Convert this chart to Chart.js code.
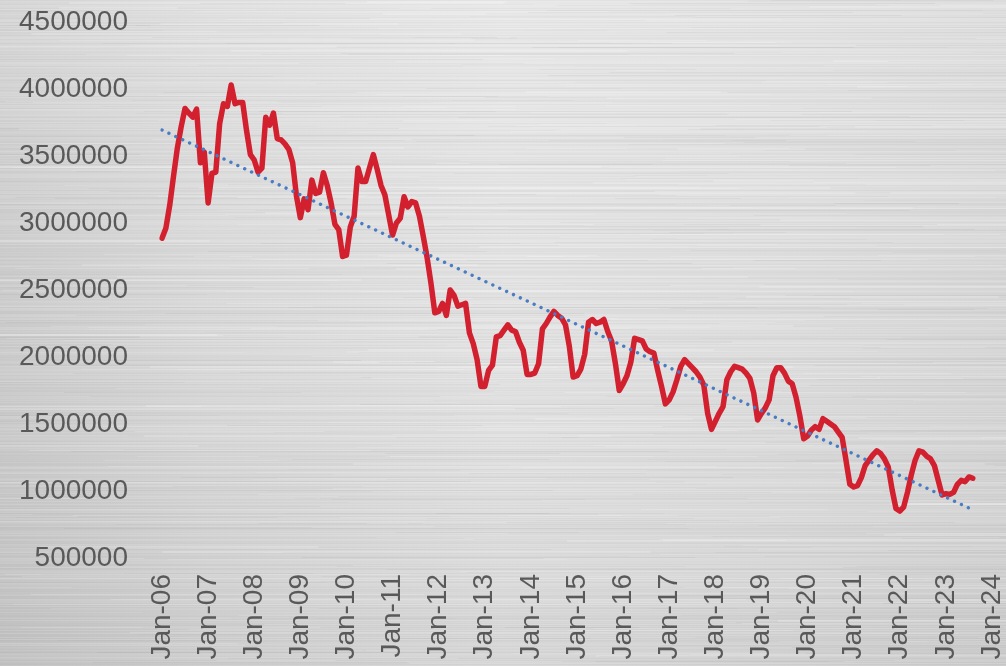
<!DOCTYPE html>
<html>
<head>
<meta charset="utf-8">
<script src="https://cdn.jsdelivr.net/npm/chart.js@4.4.1/dist/chart.umd.min.js"></script>
<style>
  html, body { margin: 0; padding: 0; background: #d6d6d6; }
  #wrap { position: relative; width: 1006px; height: 666px; }
  canvas { display: block; }
</style>
</head>
<body>
<div id="wrap"><canvas id="c" width="1006" height="666"></canvas></div>
<script>
// ---- data ----
const monthNames = ['Jan','Feb','Mar','Apr','May','Jun','Jul','Aug','Sep','Oct','Nov','Dec'];
const yearLabels = ['06','07','08','09','10','11','12','13','14','15','16','17','18','19','20','21','22','23','24'];
const yTicks = [500000,1000000,1500000,2000000,2500000,3000000,3500000,4000000,4500000];

// monthly values Jan-06 .. Aug-23
const values = [
  2886000,2960000,3130000,3350000,3560000,3720000,3855000,3820000,3790000,3850000,3450000,3530000,
  3150000,3370000,3380000,3740000,3890000,3870000,4030000,3890000,3900000,3900000,3690000,3510000,
  3470000,3380000,3410000,3790000,3730000,3820000,3630000,3620000,3590000,3550000,3450000,3200000,
  3040000,3180000,3100000,3320000,3220000,3230000,3375000,3280000,3150000,2990000,2950000,2750000,
  2760000,2970000,3050000,3410000,3310000,3310000,3410000,3510000,3400000,3280000,3210000,3060000,
  2910000,3000000,3035000,3196000,3120000,3160000,3150000,3050000,2900000,2740000,2550000,2330000,
  2340000,2400000,2310000,2500000,2460000,2380000,2390000,2400000,2180000,2100000,1980000,1780000,
  1780000,1900000,1940000,2150000,2160000,2200000,2240000,2200000,2190000,2110000,2050000,1870000,
  1870000,1880000,1950000,2210000,2250000,2300000,2340000,2310000,2290000,2240000,2080000,1850000,
  1860000,1910000,2020000,2260000,2280000,2250000,2260000,2280000,2190000,2120000,1950000,1750000,
  1800000,1860000,1960000,2140000,2130000,2120000,2060000,2040000,2030000,1900000,1780000,1650000,
  1680000,1740000,1830000,1930000,1980000,1950000,1920000,1890000,1850000,1790000,1580000,1460000,
  1520000,1580000,1630000,1830000,1890000,1930000,1920000,1910000,1880000,1840000,1730000,1530000,
  1580000,1620000,1680000,1860000,1920000,1920000,1880000,1820000,1800000,1700000,1560000,1390000,
  1410000,1455000,1480000,1460000,1540000,1520000,1500000,1480000,1440000,1400000,1230000,1050000,
  1030000,1040000,1100000,1190000,1230000,1270000,1300000,1280000,1240000,1180000,1010000,870000,
  850000,880000,990000,1120000,1230000,1300000,1290000,1260000,1240000,1190000,1080000,970000,
  980000,975000,990000,1050000,1080000,1070000,1105000,1095000
];

// linear trend line end points (first and last month of the series)
const trendStart = 3694000;
const trendEnd = 860000;

// ---- categories ----
const labels = [];
for (let yi = 0; yi < yearLabels.length; yi++) {
  for (let mi = 0; mi < 12; mi++) {
    labels.push(monthNames[mi] + '-' + yearLabels[yi]);
    if (yi === yearLabels.length - 1) break; // stop at Jan-24
  }
}

// ---- brushed metal background ----
function hash(n) { const x = Math.sin(n * 12.9898 + 78.233) * 43758.5453; return x - Math.floor(x); }
const metalBg = {
  id: 'metalBg',
  beforeDraw(chart) {
    const ctx = chart.ctx, W = chart.width, H = chart.height;
    ctx.save();
    const g = ctx.createLinearGradient(0, 0, W, 0);
    g.addColorStop(0, '#cbcbcb');
    g.addColorStop(0.2, '#d8d8d8');
    g.addColorStop(0.5, '#e2e2e2');
    g.addColorStop(0.8, '#dcdcdc');
    g.addColorStop(1, '#d6d6d6');
    ctx.fillStyle = g;
    ctx.fillRect(0, 0, W, H);
    const v = ctx.createLinearGradient(0, 0, 0, H);
    v.addColorStop(0, 'rgba(255,255,255,0.22)');
    v.addColorStop(0.45, 'rgba(255,255,255,0.02)');
    v.addColorStop(1, 'rgba(0,0,0,0.05)');
    ctx.fillStyle = v;
    ctx.fillRect(0, 0, W, H);
    // fine row streaks
    for (let y = 0; y < H; y++) {
      const h = hash(y);
      ctx.fillStyle = h > 0.5 ? 'rgba(255,255,255,' + ((h - 0.5) * 0.22).toFixed(3) + ')'
                              : 'rgba(110,110,110,' + ((0.5 - h) * 0.10).toFixed(3) + ')';
      ctx.fillRect(0, y, W, 1);
    }
    // long streak segments
    for (let i = 0; i < 700; i++) {
      const y = Math.floor(hash(i * 3.1 + 11) * H);
      const x0 = hash(i * 7.3 + 101) * W - 100;
      const len = 100 + hash(i * 5.7 + 203) * 600;
      const b = hash(i * 2.9 + 307);
      ctx.fillStyle = b > 0.45 ? 'rgba(255,255,255,' + (0.05 + b * 0.14).toFixed(3) + ')'
                               : 'rgba(120,120,120,' + (0.03 + b * 0.12).toFixed(3) + ')';
      ctx.fillRect(x0, y, len, 1 + (b > 0.9 ? 1 : 0));
    }
    ctx.restore();
  }
};

const FONT = "'Liberation Sans', Arial, sans-serif";

function noPad(scale) {
  scale.paddingTop = 0; scale.paddingBottom = 0;
  scale.paddingLeft = 0; scale.paddingRight = 0;
}

new Chart(document.getElementById('c'), {
  type: 'line',
  data: {
    labels: labels,
    datasets: [
      {
        label: 'Series',
        data: values,
        borderColor: '#D2202F',
        borderWidth: 5.5,
        pointRadius: 0,
        tension: 0,
        borderJoinStyle: 'round',
        borderCapStyle: 'round',
        fill: false,
        order: 2
      },
      {
        label: 'Trend',
        data: [{ x: labels[0], y: trendStart }, { x: labels[values.length - 1], y: trendEnd }],
        borderColor: '#4A7CC4',
        borderWidth: 3.4,
        borderDash: [0.01, 7.6],
        borderCapStyle: 'round',
        pointRadius: 0,
        tension: 0,
        fill: false,
        order: 1
      }
    ]
  },
  options: {
    responsive: false,
    animation: false,
    devicePixelRatio: 1,
    layout: { padding: { top: 22, right: 14, left: 0, bottom: 0 } },
    plugins: { legend: { display: false }, tooltip: { enabled: false } },
    scales: {
      x: {
        type: 'category',
        offset: false,
        grid: { display: false, drawTicks: false },
        border: { display: false },
        afterFit(scale) { scale.height = 108; noPad(scale); },
        ticks: {
          autoSkip: false,
          minRotation: 90,
          maxRotation: 90,
          padding: 16,
          color: '#595959',
          font: { family: FONT, size: 28 },
          callback(val) {
            const l = this.getLabelForValue(val);
            return l.startsWith('Jan') ? l : null;
          }
        }
      },
      y: {
        min: yTicks[0],
        max: yTicks[yTicks.length - 1],
        grid: { display: false, drawTicks: false },
        border: { display: false },
        afterFit(scale) { scale.width = 162; noPad(scale); },
        afterBuildTicks(scale) { scale.ticks = yTicks.map(v => ({ value: v })); },
        ticks: {
          padding: 34,
          color: '#595959',
          font: { family: FONT, size: 28 },
          callback(v) { return String(v); }
        }
      }
    }
  },
  plugins: [metalBg]
});
</script>
</body>
</html>
